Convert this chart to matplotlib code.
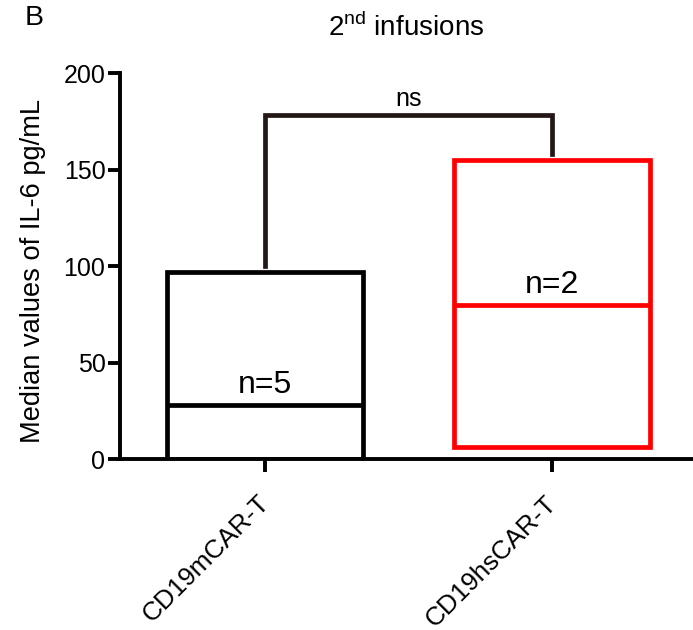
import matplotlib.pyplot as plt
from matplotlib.transforms import ScaledTranslation

plt.rcParams['font.family'] = ['Liberation Sans', 'DejaVu Sans']

# data
groups = ["CD19mCAR-T", "CD19hsCAR-T"]
box_low = [0, 6]
box_high = [97, 155]
medians = [28, 80]
n_labels = ["n=5", "n=2"]
colors = ["black", "#ff0000"]

# significance bracket
bracket_y = 178
bracket_left_low = 100
bracket_right_low = 158
sig_text = "ns"


def main():
    fig = plt.figure(figsize=(6.93, 6.30), dpi=100)
    ax = fig.add_axes([0.1732, 0.2714, 0.8254, 0.6127])

    width = 0.68
    lw = 3.4
    xs = list(range(len(groups)))
    ax.bar(xs, [h - l for h, l in zip(box_high, box_low)], bottom=box_low,
           width=width, fill=False, edgecolor=colors, linewidth=lw,
           joinstyle='miter')
    for x, m, c, lab in zip(xs, medians, colors, n_labels):
        ax.plot([x - width / 2, x + width / 2], [m, m], color=c, lw=lw,
                solid_capstyle='butt')
        ax.text(x, m + 6, lab, ha='center', va='baseline', fontsize=23)

    # bracket
    bc = "#231815"
    ax.plot([xs[0], xs[0], xs[1], xs[1]],
            [bracket_left_low, bracket_y, bracket_y, bracket_right_low],
            color=bc, lw=lw, solid_joinstyle='miter')
    ax.text((xs[0] + xs[1]) / 2, bracket_y + 5, sig_text, ha='center',
            va='baseline', fontsize=18)

    ax.set_xlim(-0.505, 1.488)
    ax.set_ylim(0, 200)
    ax.set_yticks([0, 50, 100, 150, 200])
    ax.set_xticks(xs)
    ax.tick_params(axis='y', labelsize=18, width=2.8, length=8.5, pad=2)
    ax.tick_params(axis='x', width=2.8, length=9, pad=14)
    ax.set_xticklabels(groups, rotation=45, ha='right',
                       rotation_mode='anchor', fontsize=18.8)
    # small nudge to the left so the label ends right under its tick
    shift = ScaledTranslation(-8 / 100, 0, fig.dpi_scale_trans)
    for t in ax.get_xticklabels():
        t.set_transform(t.get_transform() + shift)

    for s in ['top', 'right']:
        ax.spines[s].set_visible(False)
    for s in ['left', 'bottom']:
        ax.spines[s].set_linewidth(2.8)

    ax.set_ylabel("Median values of IL-6 pg/mL", fontsize=19.6)
    ax.yaxis.set_label_coords(-0.13, 0.487)
    ax.set_title(r"2$^{\mathregular{nd}}$ infusions", fontsize=20, pad=27)
    fig.text(0.035, 0.971, "B", fontsize=20.5, va='center')

    fig.savefig("out.png", dpi=100)


if __name__ == "__main__":
    main()
